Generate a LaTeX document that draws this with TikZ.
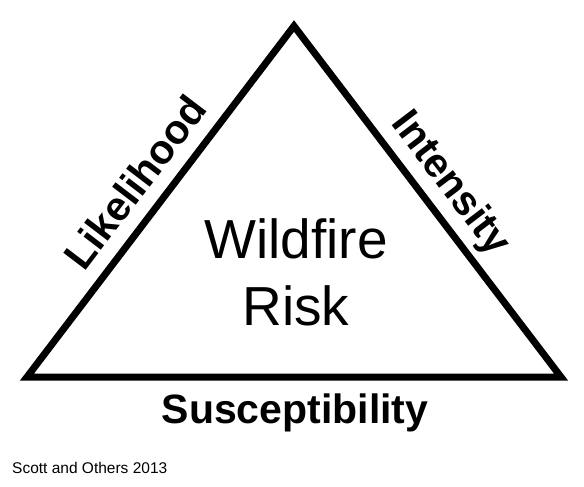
\documentclass[tikz,border=0pt]{standalone}
\usepackage{fontspec}
\setmainfont{Liberation Sans}

\begin{document}
\begin{tikzpicture}[x=1pt, y=-1pt,
  side/.style={font=\fontsize{41}{49}\selectfont\bfseries, inner sep=0pt}]
\useasboundingbox (0, 0) rectangle (584, 487);

\coordinate (top) at (294, 26);
\coordinate (left) at (27, 377);
\coordinate (right) at (561, 377);
\draw[line width=7pt, line join=miter] (left) -- (top) -- (right) -- cycle;

\node (risk) at (296, 272) [align=center, font=\fontsize{55}{67}\selectfont] {Wildfire\\Risk};
\node (like) at (135, 182) [side, rotate=52.7] {Likelihood};
\node (inten) at (450, 184) [side, rotate=-52.7] {Intensity};
\node (susc) at (295, 413) [side] {Susceptibility};
\node (src) at (12, 468) [anchor=west, inner sep=0pt, font=\fontsize{15.5}{18}\selectfont] {Scott and Others 2013};
\end{tikzpicture}
\end{document}
